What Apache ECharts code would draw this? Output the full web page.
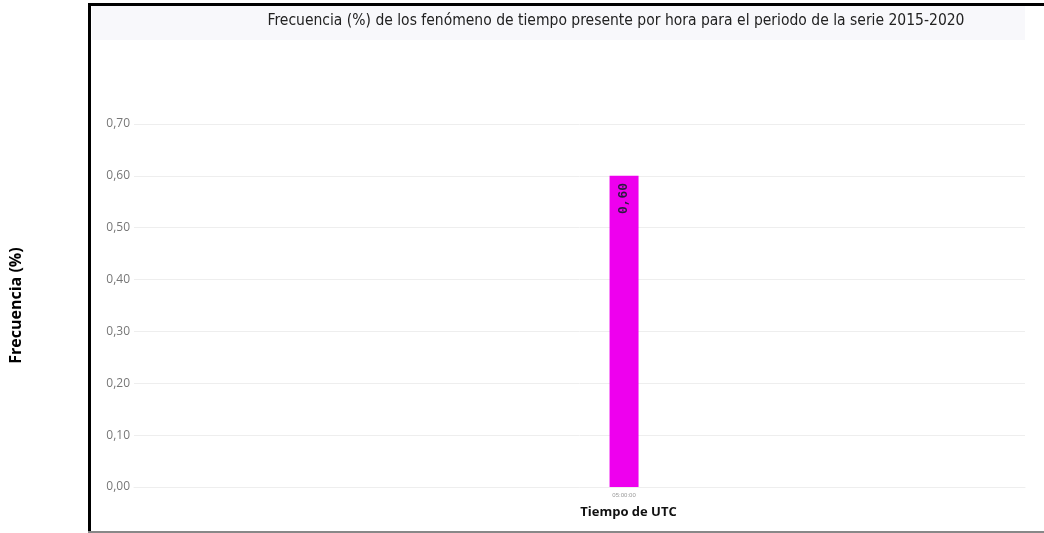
<!DOCTYPE html>
<html><head><meta charset="utf-8">
<script src="https://cdn.jsdelivr.net/npm/echarts@6/dist/echarts.min.js"></script>
<style>html,body{margin:0;padding:0;background:#fff}#c{width:1044px;height:533px}</style>
</head><body><div id="c"></div>
<script>
// Data
const titleText = 'Frecuencia (%) de los fenómeno de tiempo presente por hora para el periodo de la serie 2015-2020';
const hours = ['00:00:00','01:00:00','02:00:00','03:00:00','04:00:00','05:00:00','06:00:00','07:00:00','08:00:00','09:00:00'];
const frequency = [0, 0, 0, 0, 0, 0.60, 0, 0, 0, 0];
const yTicks = [0, 0.1, 0.2, 0.3, 0.4, 0.5, 0.6, 0.7];
const yName = 'Frecuencia (%)';
const xName = 'Tiempo de UTC';

const fmt = v => v.toFixed(2).replace('.', ',');
const chart = echarts.init(document.getElementById('c'));
chart.setOption({
  animation: false,
  graphic: [
    { type: 'rect', shape: { x: 92, y: 6, width: 933, height: 34 }, style: { fill: '#f8f8fb' }, z: -1 },
    { type: 'rect', shape: { x: 88, y: 3, width: 3, height: 530 }, style: { fill: '#000' } },
    { type: 'rect', shape: { x: 88, y: 3, width: 956, height: 3 }, style: { fill: '#000' } },
    { type: 'rect', shape: { x: 88, y: 531, width: 956, height: 2 }, style: { fill: '#888' } }
  ],
  title: {
    text: titleText, left: 611, top: 8, textAlign: 'center',
    textStyle: { fontFamily: 'DejaVu Sans Condensed, DejaVu Sans', fontSize: 15.5, fontWeight: 'normal', color: '#222' }
  },
  grid: { left: 133, right: 19, top: 124, bottom: 46 },
  xAxis: {
    type: 'category', data: hours,
    name: xName, nameLocation: 'middle', nameGap: 19,
    nameTextStyle: { fontFamily: 'Open Sans', fontWeight: 'bold', fontSize: 13, color: '#111', padding: [0, 0, 0, 98] },
    axisLine: { lineStyle: { color: '#eee' } }, axisTick: { show: false },
    axisLabel: {
      interval: 0, margin: 5, fontSize: 6, color: '#999',
      formatter: (v, i) => frequency[i] ? v : ''
    }
  },
  yAxis: {
    type: 'value', min: yTicks[0], max: yTicks[yTicks.length - 1], interval: 0.1,
    name: yName, nameLocation: 'middle', nameGap: 110, nameRotate: 90,
    nameTextStyle: { fontFamily: 'Open Sans', fontWeight: 'bold', fontSize: 16, color: '#000' },
    axisLabel: { formatter: v => fmt(v), color: '#777', fontSize: 12, fontFamily: 'Open Sans', margin: 4 },
    splitLine: { lineStyle: { color: '#eeeeee' } }
  },
  series: [{
    type: 'bar', data: frequency, barWidth: 29,
    itemStyle: { color: '#ee00ee' },
    label: {
      show: true, position: 'insideTop', rotate: 90, align: 'right', verticalAlign: 'middle', distance: 7,
      fontFamily: 'Liberation Mono', fontWeight: 'bold', fontSize: 13, color: '#2a1a40',
      formatter: p => p.value ? fmt(p.value) : ''
    }
  }]
});
</script></body></html>
